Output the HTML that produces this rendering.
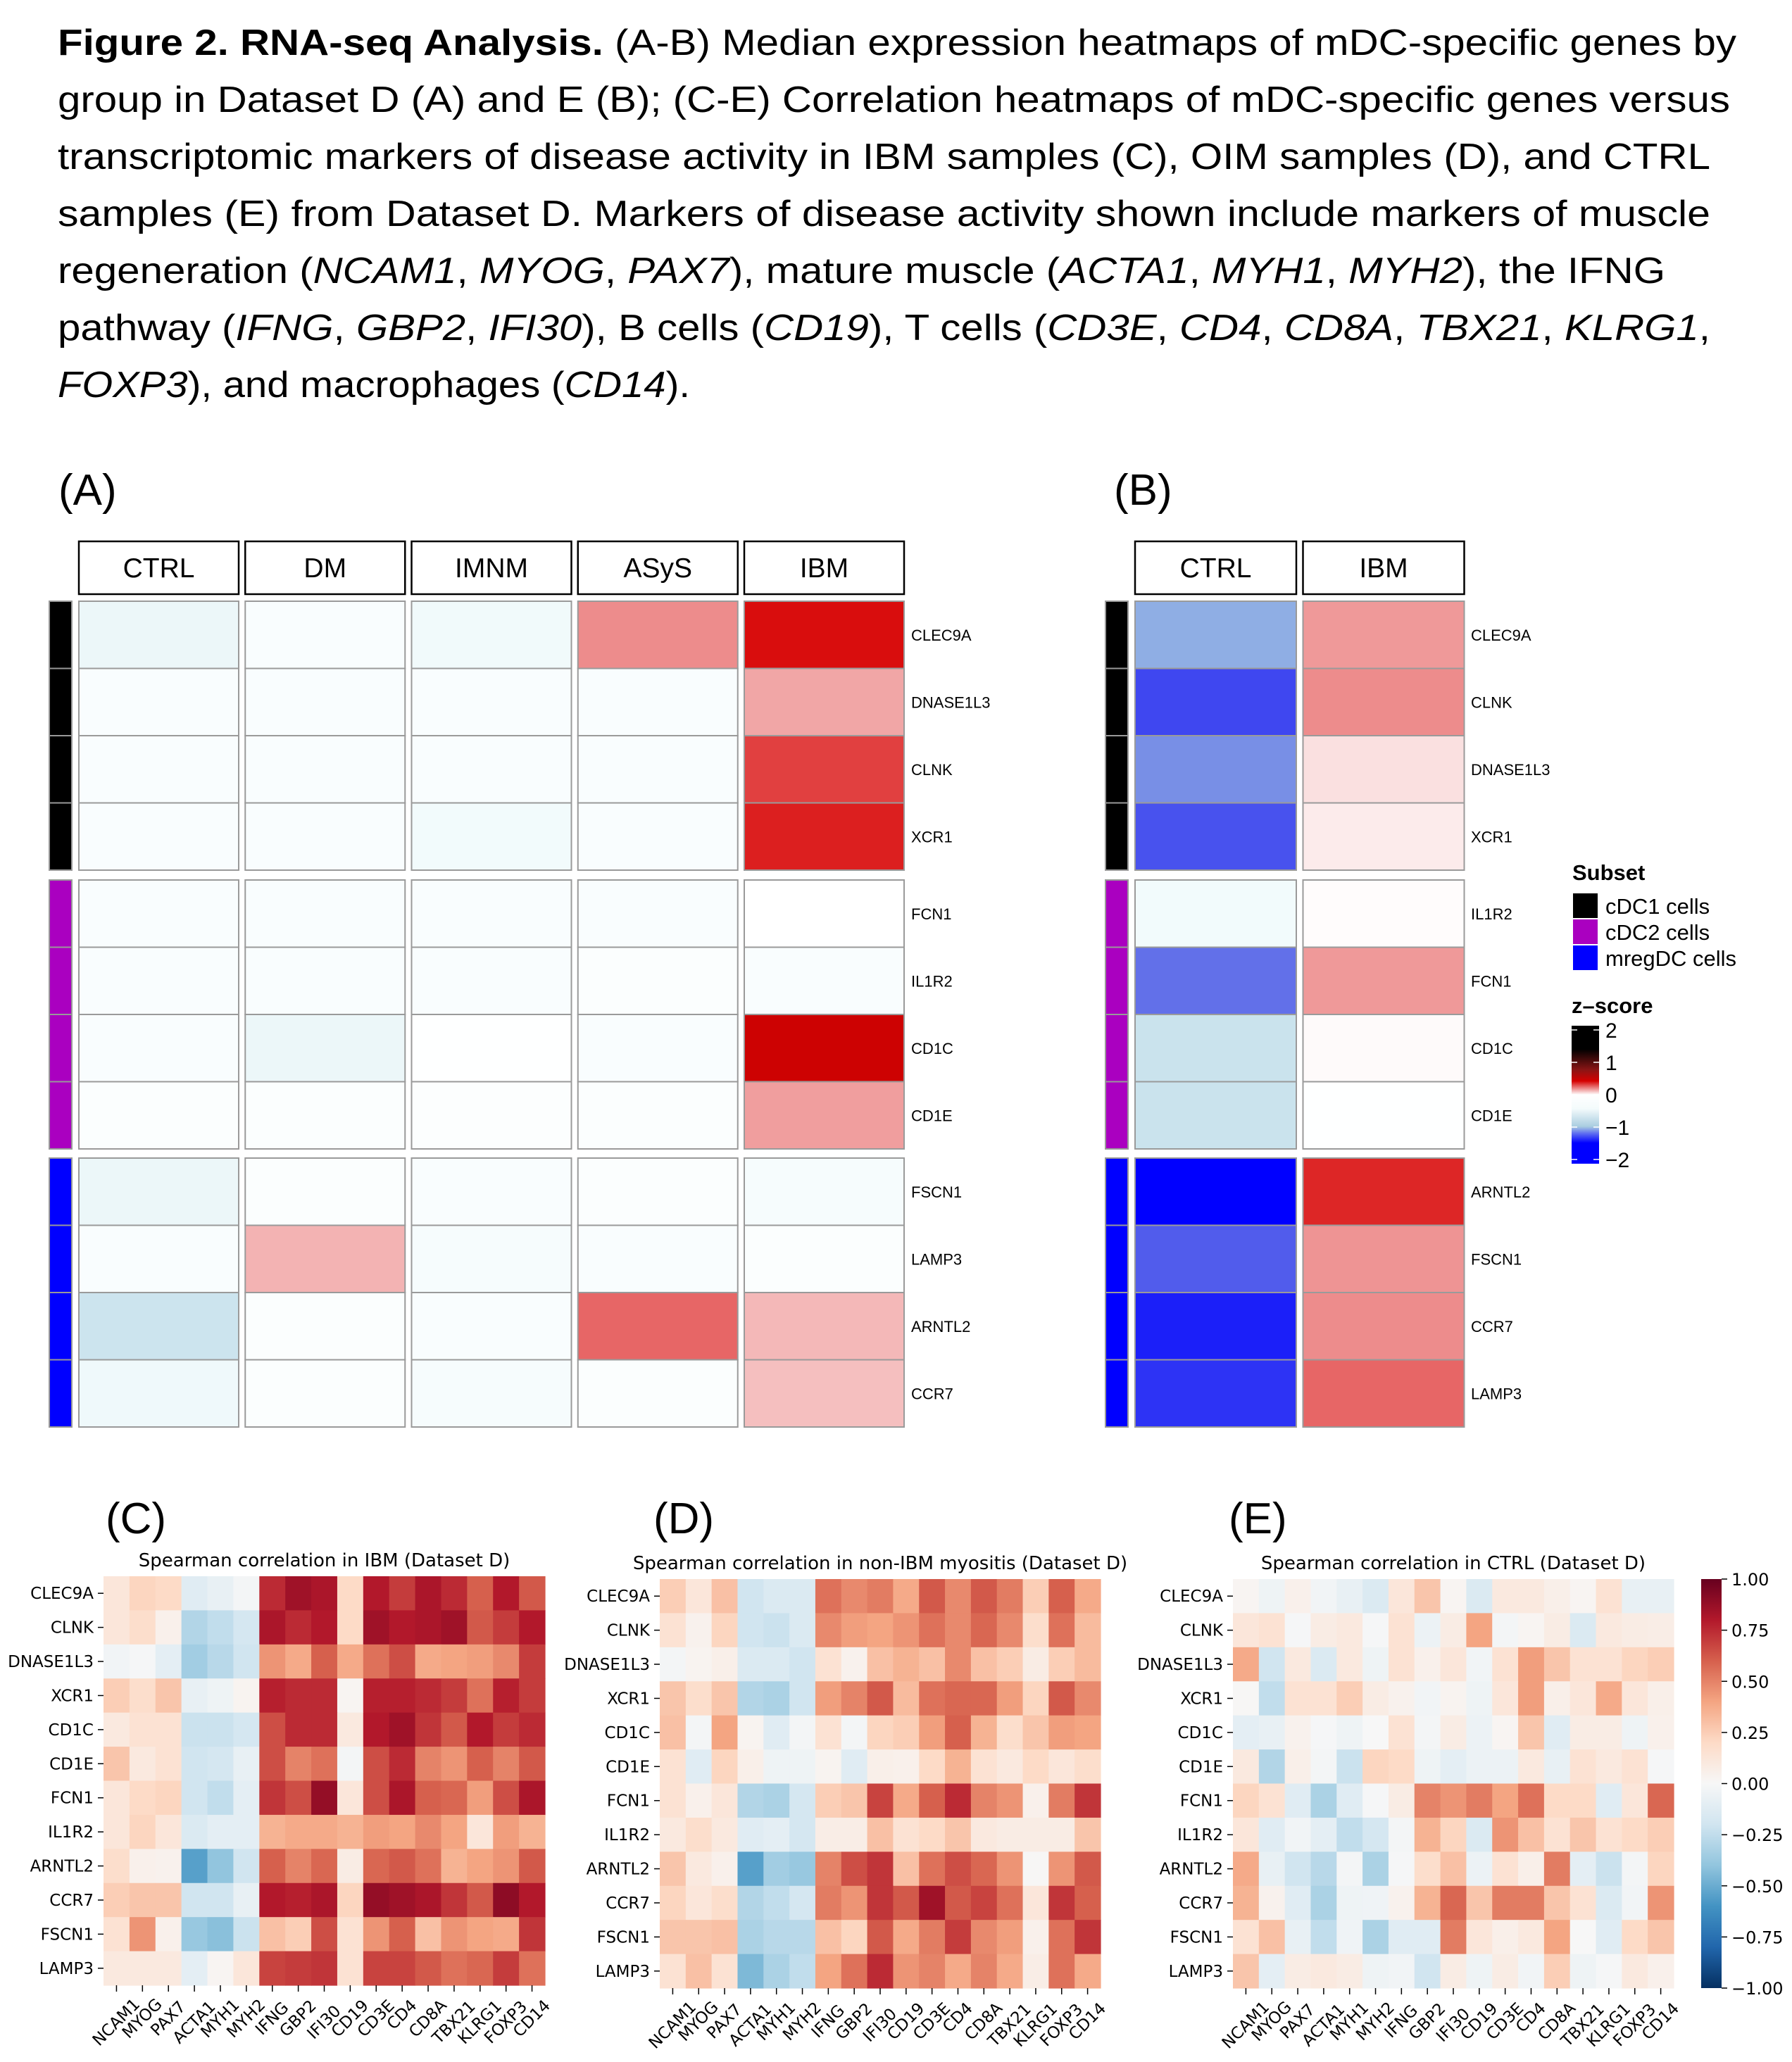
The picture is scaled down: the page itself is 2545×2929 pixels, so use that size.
<!DOCTYPE html>
<html><head><meta charset="utf-8"><style>
html,body{margin:0;padding:0;background:#fff;}
svg{display:block;}
</style></head><body>
<svg id="fig" xmlns="http://www.w3.org/2000/svg" width="2545" height="2929" viewBox="0 0 2545 2929">
<rect x="0" y="0" width="2545" height="2929" fill="#fff"/>
<g font-family="'Liberation Sans', Arial, sans-serif" font-size="52" fill="#000">
<text x="82" y="78" textLength="2384" lengthAdjust="spacingAndGlyphs"><tspan font-weight="bold">Figure 2. RNA-seq Analysis.</tspan> (A-B) Median expression heatmaps of mDC-specific genes by</text>
<text x="82" y="159" textLength="2375" lengthAdjust="spacingAndGlyphs">group in Dataset D (A) and E (B); (C-E) Correlation heatmaps of mDC-specific genes versus</text>
<text x="82" y="240" textLength="2347" lengthAdjust="spacingAndGlyphs">transcriptomic markers of disease activity in IBM samples (C), OIM samples (D), and CTRL</text>
<text x="82" y="321" textLength="2347" lengthAdjust="spacingAndGlyphs">samples (E) from Dataset D. Markers of disease activity shown include markers of muscle</text>
<text x="82" y="402" textLength="2283" lengthAdjust="spacingAndGlyphs">regeneration (<tspan font-style="italic">NCAM1</tspan>, <tspan font-style="italic">MYOG</tspan>, <tspan font-style="italic">PAX7</tspan>), mature muscle (<tspan font-style="italic">ACTA1</tspan>, <tspan font-style="italic">MYH1</tspan>, <tspan font-style="italic">MYH2</tspan>), the IFNG</text>
<text x="82" y="483" textLength="2347" lengthAdjust="spacingAndGlyphs">pathway (<tspan font-style="italic">IFNG</tspan>, <tspan font-style="italic">GBP2</tspan>, <tspan font-style="italic">IFI30</tspan>), B cells (<tspan font-style="italic">CD19</tspan>), T cells (<tspan font-style="italic">CD3E</tspan>, <tspan font-style="italic">CD4</tspan>, <tspan font-style="italic">CD8A</tspan>, <tspan font-style="italic">TBX21</tspan>, <tspan font-style="italic">KLRG1</tspan>,</text>
<text x="82" y="564" textLength="898" lengthAdjust="spacingAndGlyphs"><tspan font-style="italic">FOXP3</tspan>), and macrophages (<tspan font-style="italic">CD14</tspan>).</text>
</g>
<g id="panelA"></g>
<g id="panelB"></g>
<g id="legendB"></g>
<g id="panelC"></g>
<g id="panelD"></g>
<g id="panelE"></g>
<g id="cbarE"></g>
</svg>
<script>
// ---------- Data ----------
const groupsA = ["CTRL","DM","IMNM","ASyS","IBM"];
const genesA = ["CLEC9A","DNASE1L3","CLNK","XCR1","FCN1","IL1R2","CD1C","CD1E","FSCN1","LAMP3","ARNTL2","CCR7"];
const zA = [
 [-0.2,-0.05,-0.12,0.45,0.95],
 [-0.05,-0.05,-0.05,-0.05,0.35],
 [-0.05,-0.05,-0.05,-0.05,0.75],
 [-0.05,-0.05,-0.1,-0.05,0.88],
 [-0.05,-0.05,-0.05,-0.05,0.0],
 [-0.05,-0.05,-0.05,-0.03,-0.05],
 [-0.05,-0.2,-0.01,-0.05,1.05],
 [-0.03,-0.03,-0.02,-0.03,0.38],
 [-0.2,-0.03,-0.05,-0.03,-0.07],
 [-0.05,0.3,-0.07,-0.05,-0.03],
 [-0.6,-0.03,-0.05,0.6,0.28],
 [-0.15,-0.03,-0.07,-0.03,0.25]
];
const groupsB = ["CTRL","IBM"];
const genesB = ["CLEC9A","CLNK","DNASE1L3","XCR1","IL1R2","FCN1","CD1C","CD1E","ARNTL2","FSCN1","CCR7","LAMP3"];
const zB = [
 [-1.15,0.4],[-1.65,0.45],[-1.3,0.12],[-1.6,0.08],
 [-0.1,0.01],[-1.45,0.4],[-0.62,0.02],[-0.62,-0.01],
 [-2.0,0.85],[-1.55,0.42],[-1.85,0.45],[-1.75,0.6]
];
const subsetColors = ["#000000","#aa00c0","#0000ff"];
const subsetNames = ["cDC1 cells","cDC2 cells","mregDC cells"];

const markers = ["NCAM1","MYOG","PAX7","ACTA1","MYH1","MYH2","IFNG","GBP2","IFI30","CD19","CD3E","CD4","CD8A","TBX21","KLRG1","FOXP3","CD14"];
const corrGenes = ["CLEC9A","CLNK","DNASE1L3","XCR1","CD1C","CD1E","FCN1","IL1R2","ARNTL2","CCR7","FSCN1","LAMP3"];
const corrC = [
 [.12,.22,.2,-.12,-.08,-.02,.75,.85,.82,.2,.8,.7,.82,.75,.6,.8,.62],
 [.12,.18,.05,-.3,-.25,-.18,.82,.75,.8,.2,.85,.8,.82,.85,.62,.7,.8],
 [-.03,-.01,-.1,-.35,-.28,-.2,.45,.38,.6,.38,.55,.65,.38,.4,.42,.48,.7],
 [.25,.18,.28,-.08,-.05,.03,.78,.75,.75,.02,.78,.78,.75,.7,.55,.78,.7],
 [.1,.15,.15,-.22,-.22,-.18,.65,.75,.75,.1,.8,.85,.72,.62,.8,.7,.75],
 [.28,.1,.15,-.2,-.18,-.08,.65,.5,.55,-.02,.65,.75,.5,.45,.6,.5,.62],
 [.12,.2,.22,-.2,-.25,-.1,.72,.65,.88,.12,.65,.82,.6,.58,.42,.65,.82],
 [.12,.22,.12,-.15,-.1,-.1,.35,.38,.38,.35,.42,.4,.48,.4,.12,.42,.35],
 [.18,.05,.04,-.55,-.4,-.2,.6,.5,.58,.08,.58,.62,.55,.35,.4,.45,.62],
 [.25,.28,.28,-.2,-.2,-.08,.8,.78,.82,.22,.88,.85,.82,.72,.62,.9,.8],
 [.15,.45,.05,-.38,-.42,-.22,.3,.25,.65,.15,.45,.6,.3,.45,.4,.38,.72],
 [.1,.1,.1,-.1,.02,.12,.68,.7,.72,.15,.68,.68,.62,.55,.58,.7,.55]
];
const corrD = [
 [.25,.12,.3,-.2,-.15,-.15,.55,.48,.52,.38,.62,.48,.62,.52,.25,.6,.38],
 [.15,.04,.22,-.2,-.22,-.15,.48,.42,.4,.45,.55,.48,.58,.48,.18,.55,.32],
 [-.02,.03,.06,-.15,-.15,-.2,.15,.04,.3,.35,.3,.48,.3,.25,.08,.25,.32],
 [.28,.18,.28,-.3,-.32,-.2,.42,.5,.62,.32,.55,.58,.58,.42,.22,.62,.48],
 [.3,-.02,.4,.03,-.12,-.02,.15,-.02,.22,.25,.42,.6,.35,.18,.28,.42,.4],
 [.15,-.12,.22,.06,-.05,-.05,.03,-.12,.06,.05,.2,.35,.15,.1,.2,.12,.18],
 [.15,.05,.12,-.3,-.32,-.18,.25,.28,.68,.38,.6,.75,.5,.45,.05,.52,.72],
 [.1,.18,.1,-.12,-.1,-.18,.07,.07,.3,.15,.2,.28,.1,.08,.08,.08,.28],
 [.28,.1,.05,-.55,-.35,-.38,.5,.65,.72,.3,.55,.65,.58,.45,.01,.45,.62],
 [.22,.12,.18,-.3,-.25,-.18,.52,.45,.72,.62,.85,.62,.68,.55,.12,.72,.6],
 [.28,.28,.3,-.32,-.28,-.28,.3,.22,.62,.38,.52,.7,.48,.42,.05,.55,.72],
 [.15,.3,.15,-.45,-.32,-.25,.4,.55,.75,.45,.5,.38,.5,.38,.07,.55,.38]
];
const corrE = [
 [.02,-.05,.05,-.03,-.08,-.15,.12,.28,.02,-.15,.1,.1,.06,.02,.15,-.08,-.08],
 [.12,.15,-.01,.08,.1,-.01,.15,-.06,.08,.4,-.02,.02,.08,-.15,.1,.08,.07],
 [.38,-.2,.1,-.15,.1,-.05,.15,.05,.12,-.03,.15,.42,.28,.15,.15,.22,.25],
 [.01,-.25,.15,.15,.25,.08,.04,-.03,.03,-.05,.12,.42,.06,.12,.38,.12,.06],
 [-.1,-.08,.04,-.01,-.05,0,.15,-.02,.08,-.06,.02,.28,-.12,.08,.08,-.05,.05],
 [.1,-.3,.06,-.02,-.22,.22,.2,-.05,-.1,-.06,-.06,.1,-.08,.15,.1,.15,-.01],
 [.22,.15,-.12,-.32,-.12,-.01,.08,.5,.45,.52,.4,.55,.2,.2,-.12,.12,.58],
 [.12,-.12,-.03,-.1,-.25,-.18,-.02,.35,.22,-.15,.45,.3,.15,.28,.15,.2,.25],
 [.38,-.08,-.2,-.28,-.02,-.32,-.01,.18,.3,-.06,.15,.06,.52,-.1,-.22,-.02,.22],
 [.35,.04,-.12,-.32,-.05,-.04,.04,.35,.58,.28,.52,.52,.28,.15,-.15,-.03,.45],
 [.15,.3,-.08,-.25,-.04,-.32,-.12,-.12,.52,.12,.06,.1,.4,0,-.12,.2,.28],
 [.28,-.1,.08,.1,.08,-.05,-.03,-.2,.08,-.05,.08,-.03,.25,-.05,-.01,.1,.05]
];
const cbarTicks = [1.0,0.75,0.5,0.25,0,-0.25,-0.5,-0.75,-1.0];
const zTicks = [2,1,0,-1,-2];

// ---------- helpers ----------
const NS = "http://www.w3.org/2000/svg";
function mk(tag, attrs, parent){ const e=document.createElementNS(NS,tag); for(const k in attrs) e.setAttribute(k,attrs[k]); if(parent) parent.appendChild(e); return e; }
function hex(c){ return [parseInt(c.slice(1,3),16),parseInt(c.slice(3,5),16),parseInt(c.slice(5,7),16)]; }
function interp(stops, v){
  if(v<=stops[0][0]) return stops[0][1];
  for(let i=1;i<stops.length;i++){
    if(v<=stops[i][0]){ const [a,ca]=stops[i-1],[b,cb]=stops[i]; const t=(v-a)/(b-a);
      const A=hex(ca),B=hex(cb); return "rgb("+A.map((x,j)=>Math.round(x+(B[j]-x)*t)).join(",")+")"; }
  }
  return stops[stops.length-1][1];
}
const zStops=[[-2,"#0000ff"],[-1.5,"#5a66ea"],[-1,"#a5cde1"],[-0.4,"#dff0f4"],[-0.1,"#f2fbfc"],[0,"#ffffff"],[1,"#d70000"],[1.5,"#6e1414"],[2,"#000000"]];
const rdbu=[[-1,"#053061"],[-0.8,"#2166ac"],[-0.6,"#4393c3"],[-0.4,"#92c5de"],[-0.2,"#d1e5f0"],[0,"#f7f7f7"],[0.2,"#fddbc7"],[0.4,"#f4a582"],[0.6,"#d6604d"],[0.8,"#b2182b"],[1,"#67001f"]];
function zColor(v){ return interp(zStops,v); }
function cColor(v){ return interp(rdbu,v); }

// ---------- Expression heatmaps (A,B) ----------
const groupTops=[854,1250,1645], rowH=95.5;
function rowY(i){ return groupTops[Math.floor(i/4)] + (i%4)*rowH; }
function expr(gid, label, labelX, cols, genes, vals, colX, colW, sideX, geneX){
  const g=document.getElementById(gid);
  const t=mk("text",{x:labelX,y:717,"font-family":"'Liberation Sans', Arial, sans-serif","font-size":62},g); t.textContent=label;
  
  
  cols.forEach((c,j)=>{
    const r=mk("rect",{x:colX(j),y:769,width:colW,height:75,fill:"#fff",stroke:"#000","stroke-width":2.5},g);
    
    
    const tt=mk("text",{x:colX(j)+colW/2,y:820,"text-anchor":"middle","font-family":"'Liberation Sans', Arial, sans-serif","font-size":39},g); tt.textContent=c;
    
    
  });
  genes.forEach((gn,i)=>{
    const y=rowY(i);
    const sb=mk("rect",{x:sideX,y:y,width:32,height:rowH,fill:subsetColors[Math.floor(i/4)],stroke:"#999","stroke-width":2},g);
    
    
    cols.forEach((c,j)=>{
      const cell=mk("rect",{x:colX(j),y:y,width:colW,height:rowH,fill:zColor(vals[i][j]),stroke:"#9a9a9a","stroke-width":2},g);
      
      
    });
    const lt=mk("text",{x:geneX,y:y+rowH/2+8,"font-family":"'Liberation Sans', Arial, sans-serif","font-size":22},g); lt.textContent=gn;
    
    
  });
}
expr("panelA","(A)",83,groupsA,genesA,zA,j=>112+j*236.25,227,70,1294);
expr("panelB","(B)",1582,groupsB,genesB,zB,j=>1612+j*238.5,229,1570,2089);

// legend
(function(){
  const g=document.getElementById("legendB");
  const F="'Liberation Sans', Arial, sans-serif";
  const st=mk("text",{x:2233,y:1250,"font-family":F,"font-size":31,"font-weight":"bold"},g); st.textContent="Subset";
  
  
  subsetNames.forEach((n,i)=>{
    const y=1269+i*37;
    const r=mk("rect",{x:2234,y:y,width:35,height:35,fill:subsetColors[i]},g);
    
    
    const t=mk("text",{x:2280,y:y+29,"font-family":F,"font-size":31},g); t.textContent=n;
    
    
  });
  const zt=mk("text",{x:2232,y:1439,"font-family":F,"font-size":31,"font-weight":"bold"},g); zt.textContent="z\u2013score";
  
  
  const defs=mk("defs",{},g);
  const lg=mk("linearGradient",{id:"zgrad",x1:0,y1:0,x2:0,y2:1},defs);
  [[0,"#000000"],[0.17,"#000000"],[0.32,"#8a1515"],[0.4,"#d50000"],[0.5,"#ffffff"],[0.6,"#f4fbfc"],[0.73,"#a9cde0"],[0.78,"#5f6ff0"],[0.85,"#0000ff"],[1,"#0000ff"]].forEach(s=>mk("stop",{offset:s[0],"stop-color":s[1]},lg));
  const cb=mk("rect",{x:2232,y:1457,width:39,height:196,fill:"url(#zgrad)"},g);
  
  
  zTicks.forEach(v=>{
    const y=1463+(2-v)*46;
    mk("line",{x1:2232,x2:2240,y1:y,y2:y,stroke:"#fff","stroke-width":1.5},g);
    mk("line",{x1:2263,x2:2271,y1:y,y2:y,stroke:"#fff","stroke-width":1.5},g);
    const t=mk("text",{x:2280,y:y+11,"font-family":F,"font-size":30},g); t.textContent=(v<0?"\u2212":"")+Math.abs(v);
    
    
  });
})();

// ---------- Correlation heatmaps ----------
function corr(gid,label,labelX,title,data,x0,x1,y0,y1){
  const g=document.getElementById(gid);
  const F="'DejaVu Sans', sans-serif";
  const pl=mk("text",{x:labelX,y:2178,"font-family":"'Liberation Sans', Arial, sans-serif","font-size":62},g); pl.textContent=label;
  
  
  const tt=mk("text",{x:(x0+x1)/2,y:y0-14,"text-anchor":"middle","font-family":F,"font-size":26},g); tt.textContent=title;
  
  
  const cw=(x1-x0)/markers.length, ch=(y1-y0)/corrGenes.length;
  const xs=j=>x0+j*cw, ys=i=>y0+i*ch;
  data.forEach((row,i)=>row.forEach((v,j)=>{
    const r=mk("rect",{x:xs(j),y:ys(i),width:cw+0.6,height:ch+0.6,fill:cColor(v)},g);
    
    
  }));
  corrGenes.forEach((gn,i)=>{
    const y=ys(i)+ch/2;
    mk("line",{x1:x0-8,x2:x0,y1:y,y2:y,stroke:"#000","stroke-width":1.5},g);
    const t=mk("text",{x:x0-14,y:y+8,"text-anchor":"end","font-family":F,"font-size":23},g); t.textContent=gn;
    
    
  });
  markers.forEach((m,j)=>{
    const x=xs(j)+cw/2;
    mk("line",{x1:x,x2:x,y1:y1,y2:y1+9,stroke:"#000","stroke-width":1.5},g);
    const w=m.length*23*0.66;
    const cy=y1+18+(w+23)*0.7071/2;
    const t=mk("text",{x:x,y:cy,"text-anchor":"middle","dominant-baseline":"central","font-family":F,"font-size":23,transform:"rotate(-45 "+x+" "+cy+")"},g); t.textContent=m;
    
    
  });
}
corr("panelC","(C)",150,"Spearman correlation in IBM (Dataset D)",corrC,147,774,2239,2820);
corr("panelD","(D)",928,"Spearman correlation in non-IBM myositis (Dataset D)",corrD,937,1563,2243,2824);
corr("panelE","(E)",1745,"Spearman correlation in CTRL (Dataset D)",corrE,1751,2377,2243,2824);

(function(){
  const g=document.getElementById("cbarE");
  const defs=mk("defs",{},g);
  const lg=mk("linearGradient",{id:"cgrad",x1:0,y1:1,x2:0,y2:0},defs);
  rdbu.forEach(s=>mk("stop",{offset:(s[0]+1)/2,"stop-color":s[1]},lg));
  const y0=2243,y1=2824;
  const cb=mk("rect",{x:2416,y:y0,width:29,height:y1-y0,fill:"url(#cgrad)"},g);
  
  
  cbarTicks.forEach(v=>{
    const y=y0+(1-v)/2*(y1-y0);
    mk("line",{x1:2445,x2:2453,y1:y,y2:y,stroke:"#000","stroke-width":1.5},g);
    const t=mk("text",{x:2459,y:y+9,"font-family":"'DejaVu Sans', sans-serif","font-size":24},g);
    t.textContent=(v<0?"\u2212":"")+Math.abs(v).toFixed(2);
    
    
  });
})();
</script>
</body></html>
